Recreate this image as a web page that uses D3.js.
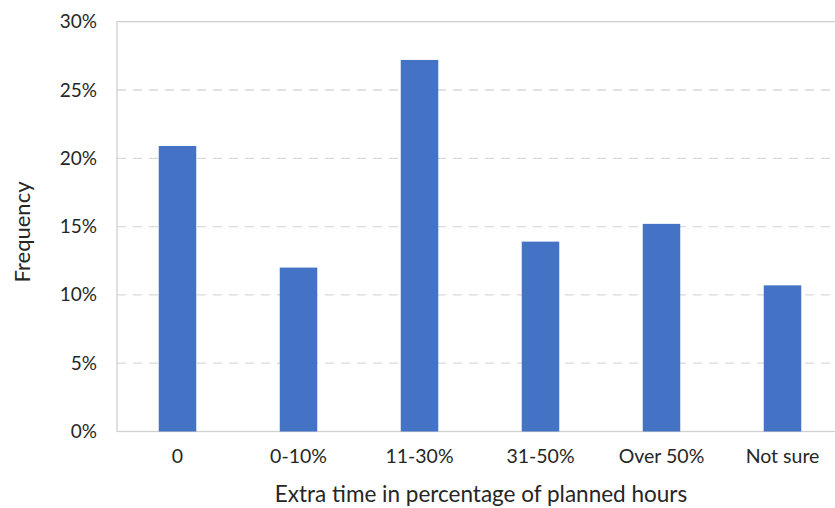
<!DOCTYPE html>
<html>
<head>
<meta charset="utf-8">
<script src="https://cdn.jsdelivr.net/npm/d3@7"></script>
<style>
  html, body { margin: 0; padding: 0; background: #fff; }
  svg { display: block; }
  text { font-family: Lato, "Open Sans", sans-serif; fill: #262626; }
</style>
</head>
<body>
<svg id="chart" width="835" height="508"></svg>
<script>
// Share of respondents by extra time needed, as a percentage of planned hours
const categories = ["0", "0-10%", "11-30%", "31-50%", "Over 50%", "Not sure"];
const frequency = [0.209, 0.120, 0.272, 0.139, 0.152, 0.107];
const yTicks = [0, 0.05, 0.10, 0.15, 0.20, 0.25, 0.30];
const xTitle = "Extra time in percentage of planned hours";
const yTitle = "Frequency";

const svg = d3.select("#chart");
const plot = { left: 117, right: 843, top: 21.7, bottom: 431.5 };

const x = d3.scaleBand()
  .domain(categories)
  .range([plot.left, plot.right])
  .paddingInner(0.69)
  .paddingOuter(0.345);

const y = d3.scaleLinear()
  .domain([0, 0.30])
  .range([plot.bottom, plot.top]);

// dashed horizontal gridlines
svg.append("g")
  .selectAll("line")
  .data(yTicks.filter(t => t > 0 && t < 0.30))
  .join("line")
  .attr("x1", plot.left)
  .attr("x2", plot.right)
  .attr("y1", d => y(d))
  .attr("y2", d => y(d))
  .attr("stroke", "#d9d9d9")
  .attr("stroke-width", 1.3)
  .attr("stroke-dasharray", "9,7");

// plot-area frame
svg.append("rect")
  .attr("x", plot.left)
  .attr("y", plot.top)
  .attr("width", plot.right - plot.left)
  .attr("height", plot.bottom - plot.top)
  .attr("fill", "none")
  .attr("stroke", "#d0d0d0")
  .attr("stroke-width", 1.3);

// bars
svg.append("g")
  .selectAll("rect")
  .data(frequency)
  .join("rect")
  .attr("x", (d, i) => x(categories[i]))
  .attr("width", x.bandwidth())
  .attr("y", d => y(d))
  .attr("height", d => y(0) - y(d))
  .attr("fill", "#4472C4");

// y axis labels
const yAxis = d3.axisLeft(y)
  .tickValues(yTicks)
  .tickFormat(d3.format(".0%"))
  .tickSize(0)
  .tickPadding(20);
const gy = svg.append("g")
  .attr("transform", `translate(${plot.left},0)`)
  .call(yAxis);
gy.select(".domain").remove();
gy.selectAll("text")
  .attr("font-size", "19px")
  .attr("fill", "#404040")
  .style("font-family", "Lato, 'Open Sans', sans-serif");

// x axis labels
const xAxis = d3.axisBottom(x).tickSize(0).tickPadding(18);
const gx = svg.append("g")
  .attr("transform", `translate(0,${plot.bottom})`)
  .call(xAxis);
gx.select(".domain").remove();
gx.selectAll("text")
  .attr("font-size", "19.5px")
  .attr("fill", "#404040")
  .style("font-family", "Lato, 'Open Sans', sans-serif");

// axis titles
svg.append("text")
  .attr("x", 481)
  .attr("y", 502)
  .attr("text-anchor", "middle")
  .attr("font-size", "22.5px")
  .text(xTitle);

svg.append("text")
  .attr("transform", `translate(30,232) rotate(-90)`)
  .attr("text-anchor", "middle")
  .attr("font-size", "22px")
  .text(yTitle);
</script>
</body>
</html>
